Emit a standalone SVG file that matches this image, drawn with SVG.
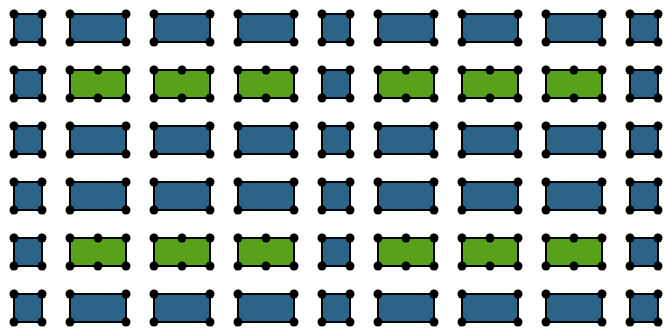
<svg xmlns="http://www.w3.org/2000/svg" xmlns:xlink="http://www.w3.org/1999/xlink" width="664" height="328" viewBox="0 0 664 328">
<style>
.b{fill:#2c6389;stroke:#000;stroke-width:2}
.g{fill:#58a11a;stroke:#000;stroke-width:2}
.d{fill:#000}
</style>
<defs>
<g id="sq"><rect class="b" x="0" y="0" width="28" height="28"/><circle class="d" cx="0" cy="0" r="4.5"/><circle class="d" cx="28" cy="0" r="4.5"/><circle class="d" cx="0" cy="28" r="4.5"/><circle class="d" cx="28" cy="28" r="4.5"/></g>
<g id="wb"><rect class="b" x="0" y="0" width="56" height="28"/><circle class="d" cx="0" cy="0" r="4.5"/><circle class="d" cx="56" cy="0" r="4.5"/><circle class="d" cx="0" cy="28" r="4.5"/><circle class="d" cx="56" cy="28" r="4.5"/></g>
<g id="wg"><rect class="g" x="0" y="0" width="56" height="28"/><circle class="d" cx="0" cy="0" r="4.5"/><circle class="d" cx="28" cy="0" r="4.5"/><circle class="d" cx="56" cy="0" r="4.5"/><circle class="d" cx="0" cy="28" r="4.5"/><circle class="d" cx="28" cy="28" r="4.5"/><circle class="d" cx="56" cy="28" r="4.5"/></g>
</defs>
<rect width="664" height="328" fill="#fff"/>
<!-- row 1 -->
<g id="n1_1"><use xlink:href="#sq" x="14" y="14"/></g>
<g id="n1_2"><use xlink:href="#wb" x="70" y="14"/></g>
<g id="n1_3"><use xlink:href="#wb" x="154" y="14"/></g>
<g id="n1_4"><use xlink:href="#wb" x="238" y="14"/></g>
<g id="n1_5"><use xlink:href="#sq" x="322" y="14"/></g>
<g id="n1_6"><use xlink:href="#wb" x="378" y="14"/></g>
<g id="n1_7"><use xlink:href="#wb" x="462" y="14"/></g>
<g id="n1_8"><use xlink:href="#wb" x="546" y="14"/></g>
<g id="n1_9"><use xlink:href="#sq" x="630" y="14"/></g>
<!-- row 2 -->
<g id="n2_1"><use xlink:href="#sq" x="14" y="70"/></g>
<g id="n2_2"><use xlink:href="#wg" x="70" y="70"/></g>
<g id="n2_3"><use xlink:href="#wg" x="154" y="70"/></g>
<g id="n2_4"><use xlink:href="#wg" x="238" y="70"/></g>
<g id="n2_5"><use xlink:href="#sq" x="322" y="70"/></g>
<g id="n2_6"><use xlink:href="#wg" x="378" y="70"/></g>
<g id="n2_7"><use xlink:href="#wg" x="462" y="70"/></g>
<g id="n2_8"><use xlink:href="#wg" x="546" y="70"/></g>
<g id="n2_9"><use xlink:href="#sq" x="630" y="70"/></g>
<!-- row 3 -->
<g id="n3_1"><use xlink:href="#sq" x="14" y="126"/></g>
<g id="n3_2"><use xlink:href="#wb" x="70" y="126"/></g>
<g id="n3_3"><use xlink:href="#wb" x="154" y="126"/></g>
<g id="n3_4"><use xlink:href="#wb" x="238" y="126"/></g>
<g id="n3_5"><use xlink:href="#sq" x="322" y="126"/></g>
<g id="n3_6"><use xlink:href="#wb" x="378" y="126"/></g>
<g id="n3_7"><use xlink:href="#wb" x="462" y="126"/></g>
<g id="n3_8"><use xlink:href="#wb" x="546" y="126"/></g>
<g id="n3_9"><use xlink:href="#sq" x="630" y="126"/></g>
<!-- row 4 -->
<g id="n4_1"><use xlink:href="#sq" x="14" y="182"/></g>
<g id="n4_2"><use xlink:href="#wb" x="70" y="182"/></g>
<g id="n4_3"><use xlink:href="#wb" x="154" y="182"/></g>
<g id="n4_4"><use xlink:href="#wb" x="238" y="182"/></g>
<g id="n4_5"><use xlink:href="#sq" x="322" y="182"/></g>
<g id="n4_6"><use xlink:href="#wb" x="378" y="182"/></g>
<g id="n4_7"><use xlink:href="#wb" x="462" y="182"/></g>
<g id="n4_8"><use xlink:href="#wb" x="546" y="182"/></g>
<g id="n4_9"><use xlink:href="#sq" x="630" y="182"/></g>
<!-- row 5 -->
<g id="n5_1"><use xlink:href="#sq" x="14" y="238"/></g>
<g id="n5_2"><use xlink:href="#wg" x="70" y="238"/></g>
<g id="n5_3"><use xlink:href="#wg" x="154" y="238"/></g>
<g id="n5_4"><use xlink:href="#wg" x="238" y="238"/></g>
<g id="n5_5"><use xlink:href="#sq" x="322" y="238"/></g>
<g id="n5_6"><use xlink:href="#wg" x="378" y="238"/></g>
<g id="n5_7"><use xlink:href="#wg" x="462" y="238"/></g>
<g id="n5_8"><use xlink:href="#wg" x="546" y="238"/></g>
<g id="n5_9"><use xlink:href="#sq" x="630" y="238"/></g>
<!-- row 6 -->
<g id="n6_1"><use xlink:href="#sq" x="14" y="294"/></g>
<g id="n6_2"><use xlink:href="#wb" x="70" y="294"/></g>
<g id="n6_3"><use xlink:href="#wb" x="154" y="294"/></g>
<g id="n6_4"><use xlink:href="#wb" x="238" y="294"/></g>
<g id="n6_5"><use xlink:href="#sq" x="322" y="294"/></g>
<g id="n6_6"><use xlink:href="#wb" x="378" y="294"/></g>
<g id="n6_7"><use xlink:href="#wb" x="462" y="294"/></g>
<g id="n6_8"><use xlink:href="#wb" x="546" y="294"/></g>
<g id="n6_9"><use xlink:href="#sq" x="630" y="294"/></g>
</svg>
